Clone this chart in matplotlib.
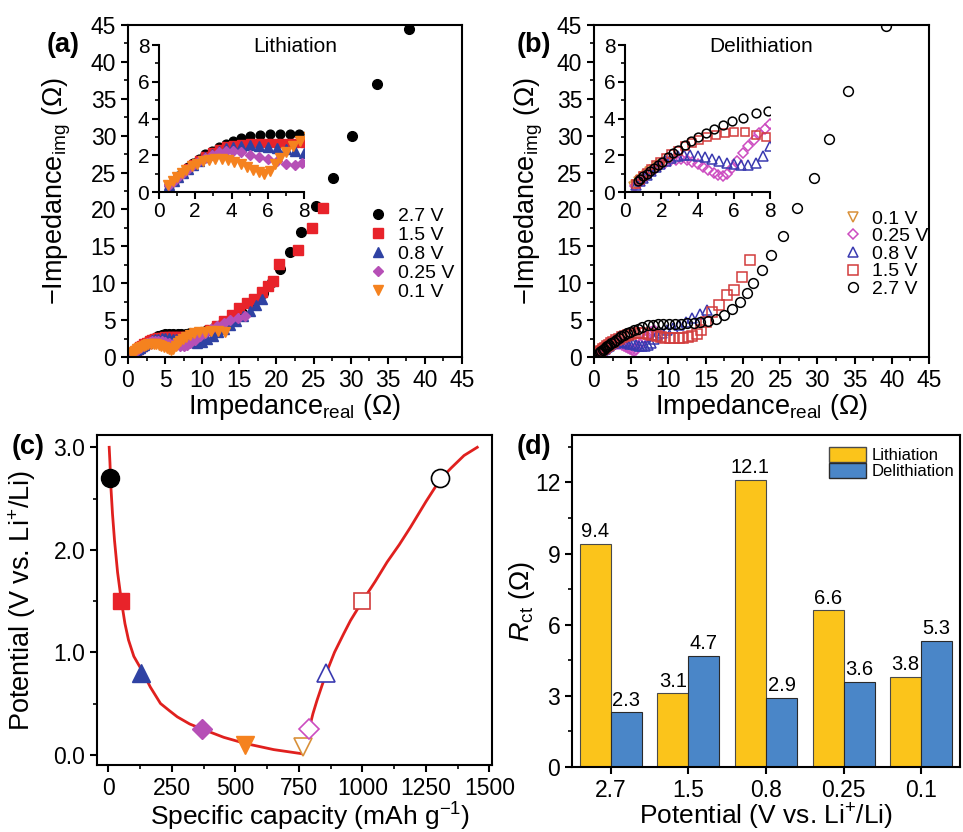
import numpy as np
import matplotlib
matplotlib.use("Agg")
import matplotlib.pyplot as plt
from matplotlib.ticker import MultipleLocator, FormatStrFormatter
from matplotlib.patches import Patch

plt.rcParams.update({"font.family": "Liberation Sans", "mathtext.fontset": "custom",
                     "mathtext.rm": "Liberation Sans", "mathtext.it": "Liberation Sans:italic",
                     "mathtext.bf": "Liberation Sans:bold", "axes.linewidth": 1.5})

# ---------------- data ----------------
# (a) lithiation EIS
li27_x = [0.55,0.8,1.05,1.3,1.6,1.9,2.2,2.55,2.9,3.3,3.7,4.1,4.55,5.0,5.55,6.1,6.7,7.2,7.75,8.3,9.0,9.8,10.7,11.7,12.8,14.0,15.3,16.8,18.2,19.4,20.5,21.8,23.3,25.3,27.6,30.2,33.6,37.9]
li27_y = [0.4,0.62,0.85,1.08,1.35,1.6,1.8,2.05,2.25,2.45,2.62,2.78,2.92,3.05,3.12,3.15,3.17,3.17,3.18,3.22,3.3,3.45,3.7,4.1,4.6,5.2,6.0,7.1,8.7,10.2,11.9,14.2,17.0,20.4,24.3,30.0,37.0,44.4]
li15_x = [0.55,0.8,1.05,1.3,1.6,1.9,2.2,2.55,2.9,3.3,3.7,4.1,4.55,5.0,5.5,6.0,6.5,7.0,7.5,8.0,8.6,9.3,10.1,11.0,12.0,13.0,14.0,14.9,16.0,17.0,18.0,18.8,19.5,20.3,22.9,24.8,26.3]
li15_y = [0.38,0.6,0.82,1.05,1.3,1.52,1.72,1.95,2.15,2.33,2.48,2.58,2.63,2.66,2.67,2.67,2.66,2.66,2.66,2.67,2.75,2.95,3.25,3.65,4.2,4.9,5.7,6.6,7.3,7.8,8.8,9.6,10.3,12.6,14.5,17.5,20.2]
li08_x = [0.55,0.8,1.05,1.3,1.6,1.9,2.2,2.55,2.9,3.3,3.7,4.1,4.55,5.0,5.5,6.0,6.5,7.0,7.5,8.0,8.6,9.3,10.0,10.7,11.4,12.1,12.9,13.7,14.6,15.5,16.4,17.3,18.1]
li08_y = [0.36,0.58,0.8,1.02,1.26,1.48,1.68,1.9,2.08,2.25,2.38,2.47,2.52,2.54,2.52,2.47,2.4,2.32,2.22,2.12,2.0,1.95,2.1,2.45,2.9,3.35,3.85,4.35,4.9,5.5,6.2,7.0,7.9]
li025_x = [0.55,0.8,1.05,1.3,1.6,1.9,2.2,2.55,2.9,3.3,3.7,4.1,4.55,5.0,5.5,6.0,6.5,7.0,7.5,7.9,8.4,9.0,9.7,10.4,11.2,12.0,12.9,13.8,14.8,15.8]
li025_y = [0.36,0.58,0.8,1.02,1.25,1.47,1.66,1.86,2.02,2.15,2.22,2.22,2.15,2.04,1.92,1.8,1.66,1.52,1.45,1.6,1.9,2.3,2.8,3.3,3.8,4.25,4.65,5.0,5.3,5.6]
li01_x = [0.5,0.75,1.0,1.25,1.5,1.8,2.1,2.4,2.75,3.1,3.45,3.8,4.15,4.5,4.85,5.2,5.5,5.8,6.1,6.4,6.7,7.0,7.4,7.8,8.3,8.9,9.6,10.4,11.2,12.1,13.1]
li01_y = [0.4,0.62,0.84,1.04,1.22,1.4,1.55,1.67,1.76,1.8,1.79,1.74,1.64,1.5,1.35,1.2,1.08,1.0,1.15,1.5,1.85,2.2,2.5,2.75,3.0,3.2,3.35,3.45,3.55,3.55,3.4]

# (b) delithiation EIS
de01_x = [0.5,0.62,0.75,0.9,1.05,1.2,1.4,1.6,1.8,2.0]
de01_y = [0.28,0.4,0.52,0.66,0.8,0.93,1.08,1.22,1.35,1.47]
de025_x = [0.55,0.75,0.95,1.15,1.4,1.65,1.9,2.2,2.5,2.8,3.1,3.4,3.7,4.0,4.3,4.6,4.9,5.15,5.4,5.65,5.9,6.2,6.5,6.8,7.1,7.4,7.7,8.0]
de025_y = [0.3,0.48,0.66,0.85,1.05,1.25,1.42,1.58,1.7,1.76,1.78,1.74,1.65,1.52,1.38,1.22,1.05,0.92,0.85,0.98,1.3,1.7,2.1,2.5,2.85,3.2,3.45,3.7]
de08_x = [0.6,0.8,1.0,1.2,1.45,1.7,1.95,2.25,2.55,2.9,3.25,3.6,4.0,4.4,4.8,5.2,5.6,6.0,6.4,6.8,7.2,7.6,8.0,8.5,9.1,9.8,10.6,11.4,12.3,13.2,14.2,15.2]
de08_y = [0.4,0.58,0.76,0.95,1.15,1.35,1.52,1.7,1.84,1.95,2.02,2.04,1.98,1.9,1.8,1.7,1.6,1.52,1.47,1.48,1.6,1.95,2.5,2.95,3.3,3.6,3.95,4.35,4.8,5.25,5.8,6.4]
de15_x = [0.6,0.8,1.0,1.2,1.45,1.7,1.95,2.25,2.55,2.9,3.3,3.7,4.1,4.5,5.0,5.5,6.0,6.6,7.2,7.8,8.4,9.0,9.6,10.2,10.8,11.4,12.0,12.6,13.2,13.8,14.4,15.1,15.8,16.8,17.9,18.8,19.9,21.0]
de15_y = [0.45,0.65,0.85,1.05,1.25,1.45,1.65,1.85,2.05,2.25,2.48,2.68,2.85,2.98,3.1,3.2,3.28,3.25,3.12,3.0,2.85,2.7,2.62,2.58,2.55,2.55,2.58,2.65,2.8,3.1,3.6,4.8,6.1,7.0,8.4,9.1,10.9,13.1]
de27_x = [0.7,0.85,1.0,1.2,1.4,1.6,1.8,2.05,2.35,2.65,2.95,3.3,3.65,4.05,4.45,4.9,5.4,5.9,6.5,7.2,7.9,8.6,9.3,10.1,10.9,11.7,12.5,13.4,14.3,15.3,16.4,17.5,18.6,19.6,20.6,21.4,22.5,23.8,25.4,27.3,29.6,31.5,34.1,39.2]
de27_y = [0.6,0.72,0.85,1.0,1.15,1.3,1.45,1.65,1.88,2.1,2.3,2.55,2.78,3.0,3.22,3.42,3.62,3.85,4.05,4.28,4.4,4.45,4.5,4.5,4.5,4.52,4.55,4.6,4.7,4.85,5.2,5.7,6.5,7.5,8.7,10.0,11.8,13.8,16.4,20.2,24.2,29.6,36.1,44.8]

# (c) voltage profile
cap_dis = [3,6,10,16,24,36,51,65,79,100,130,165,205,240,271,320,370,454,539,651,762]
pot_dis = [3.0,2.85,2.6,2.35,2.09,1.78,1.5,1.28,1.12,0.96,0.83,0.66,0.5,0.43,0.37,0.3,0.25,0.17,0.11,0.05,0.01]
cap_chg = [762,772,782,791,805,821,840,858,890,926,953,1000,1050,1097,1145,1189,1250,1307,1350,1400,1452]
pot_chg = [0.01,0.05,0.11,0.26,0.4,0.53,0.67,0.8,1.0,1.18,1.31,1.5,1.69,1.88,2.05,2.22,2.47,2.69,2.8,2.92,3.0]
mark_li_cap = [8, 51, 130, 370, 539]
mark_li_pot = [2.7, 1.5, 0.8, 0.25, 0.1]
mark_de_cap = [764, 791, 858, 1000, 1307]
mark_de_pot = [0.08, 0.25, 0.8, 1.5, 2.7]

# (d) charge-transfer resistance
potentials = ["2.7", "1.5", "0.8", "0.25", "0.1"]
rct_li = [9.4, 3.1, 12.1, 6.6, 3.8]
rct_de = [2.3, 4.7, 2.9, 3.6, 5.3]

# ---------------- styles ----------------
C27, C15, C08, C025, C01 = "black", "#E8232A", "#2F42A3", "#B64FB6", "#F5821F"
OC15, OC08, OC025, OC01 = "#D23C3C", "#3A3AB0", "#CC4CC0", "#D9913A"
YEL, BLU = "#FBC41B", "#4A86C8"
TICK_FS, LAB_FS = 16.5, 19.5

lith = [(li27_x, li27_y, "o", C27, "2.7 V"), (li15_x, li15_y, "s", C15, "1.5 V"),
        (li08_x, li08_y, "^", C08, "0.8 V"), (li025_x, li025_y, "D", C025, "0.25 V"),
        (li01_x, li01_y, "v", C01, "0.1 V")]
delith = [(de01_x, de01_y, "v", OC01, "0.1 V"), (de025_x, de025_y, "D", OC025, "0.25 V"),
          (de08_x, de08_y, "^", OC08, "0.8 V"), (de15_x, de15_y, "s", OC15, "1.5 V"),
          (de27_x, de27_y, "o", C27, "2.7 V")]
msz = {"o": 7, "s": 6.5, "^": 7.5, "D": 5.5, "v": 7.5}

def style(ax, minor_x=None, minor_y=None):
    ax.tick_params(direction="out", length=5, width=1.5, labelsize=TICK_FS, top=False, right=False)
    ax.tick_params(which="minor", direction="out", length=3, width=1.2)
    if minor_x: ax.xaxis.set_minor_locator(MultipleLocator(minor_x))
    if minor_y: ax.yaxis.set_minor_locator(MultipleLocator(minor_y))

def eis_panel(ax, ins, series, filled, title):
    for x, y, m, c, lab in series:
        kw = dict(color=c) if filled else dict(mfc="none", mec=c, mew=1.1)
        ax.plot(x, y, ls="none", marker=m, ms=msz[m], label=lab, **kw)
        ins.plot(x, y, ls="none", marker=m, ms=msz[m] * 0.9, **kw)
    ax.set_xlim(0, 45); ax.set_ylim(0, 45)
    ax.xaxis.set_major_locator(MultipleLocator(5)); ax.yaxis.set_major_locator(MultipleLocator(5))
    style(ax, 2.5, 2.5)
    ax.set_xlabel("Impedance$_{\\rm real}$ (\u03a9)", fontsize=LAB_FS)
    ax.set_ylabel("\u2212Impedance$_{\\rm img}$ (\u03a9)", fontsize=LAB_FS)
    ax.text(0.5, 0.934, title, transform=ax.transAxes, ha="center", va="center", fontsize=15)
    ins.set_xlim(0, 8); ins.set_ylim(0, 8)
    ins.set_facecolor("none")
    ins.spines["top"].set_visible(False); ins.spines["right"].set_visible(False)
    ins.xaxis.set_major_locator(MultipleLocator(2)); ins.yaxis.set_major_locator(MultipleLocator(2))
    style(ins, 1, 1)
    ins.tick_params(labelsize=15, pad=2)

fig = plt.figure(figsize=(9.63, 8.32), dpi=100)
W, H = 963.0, 832.0
def box(l, t, r, b):
    return [l / W, 1 - b / H, (r - l) / W, (b - t) / H]

# (a)
axa = fig.add_axes(box(128, 25, 462, 357))
insa = fig.add_axes(box(159, 45, 304, 192))
eis_panel(axa, insa, lith, True, "Lithiation")
axa.legend(loc="upper left", bbox_to_anchor=(0.719, 0.452), frameon=False, fontsize=14,
           handlelength=1.0, handletextpad=0.55, labelspacing=0.08, borderpad=0, borderaxespad=0)
axa.yaxis.set_label_coords(-0.165, 0.5)
axa.xaxis.set_label_coords(0.5, -0.105)

# (b)
axb = fig.add_axes(box(594, 25, 929, 357))
insb = fig.add_axes(box(625, 45, 770, 192))
eis_panel(axb, insb, delith, False, "Delithiation")
axb.legend(loc="upper left", bbox_to_anchor=(0.743, 0.443), frameon=False, fontsize=14,
           handlelength=1.0, handletextpad=0.5, labelspacing=0.0, borderpad=0, borderaxespad=0)
axb.yaxis.set_label_coords(-0.145, 0.5)
axb.xaxis.set_label_coords(0.5, -0.105)

# (c)
axc = fig.add_axes(box(97, 435, 492, 765))
axc.plot(cap_dis + cap_chg[1:], pot_dis + pot_chg[1:], color="#E0201E", lw=2, zorder=1)
fmk = [("o", C27, 13), ("s", C15, 11), ("^", C08, 13), ("D", C025, 10), ("v", C01, 13)]
omk = [("v", OC01, 13), ("D", OC025, 10), ("^", OC08, 13), ("s", OC15, 11), ("o", C27, 13)]
for (m, c, s), x, y in zip(fmk, mark_li_cap, mark_li_pot):
    axc.plot([x], [y], marker=m, color=c, ms=s, ls="none", zorder=3)
for (m, c, s), x, y in zip(omk, mark_de_cap, mark_de_pot):
    axc.plot([x], [y], marker=m, mfc="white", mec=c, mew=1.2, ms=s, ls="none", zorder=3)
axc.set_xlim(-45, 1510); axc.set_ylim(-0.1, 3.12)
axc.xaxis.set_major_locator(MultipleLocator(250)); axc.yaxis.set_major_locator(MultipleLocator(1))
axc.yaxis.set_major_formatter(FormatStrFormatter("%.1f"))
style(axc, 125, 0.5)
axc.set_xlabel("Specific capacity (mAh g$^{-1}$)", fontsize=19)
axc.set_ylabel("Potential (V vs. Li$^{+}$/Li)", fontsize=LAB_FS)
axc.yaxis.set_label_coords(-0.15, 0.5)
axc.xaxis.set_label_coords(0.54, -0.108)

# (d)
axd = fig.add_axes(box(572, 435, 960, 767))
xi = np.arange(len(potentials)); bw = 0.4
b1 = axd.bar(xi - bw / 2, rct_li, bw, color=YEL, edgecolor="#4a4a4a", lw=0.8, label="Lithiation")
b2 = axd.bar(xi + bw / 2, rct_de, bw, color=BLU, edgecolor="#2a2a2a", lw=0.8, label="Delithiation")
for bars in (b1, b2):
    for b in bars:
        axd.text(b.get_x() + b.get_width() / 2, b.get_height() + 0.12, f"{b.get_height():.1f}",
                 ha="center", va="bottom", fontsize=14.5)
axd.set_xlim(-0.5, 4.5); axd.set_ylim(0, 14)
axd.set_xticks(xi); axd.set_xticklabels(potentials)
axd.yaxis.set_major_locator(MultipleLocator(3))
style(axd, None, 1.5)
axd.set_xlabel("Potential (V vs. Li$^{+}$/Li)", fontsize=19)
axd.set_ylabel("$R_{\\rm ct}$ (\u03a9)", fontsize=LAB_FS)
axd.yaxis.set_label_coords(-0.09, 0.5)
axd.xaxis.set_label_coords(0.5, -0.105)
axd.legend(handles=[Patch(facecolor=YEL, edgecolor="#4a4a4a", label="Lithiation"),
                    Patch(facecolor=BLU, edgecolor="#2a2a2a", label="Delithiation")],
           loc="upper left", bbox_to_anchor=(0.663, 0.964), frameon=False, fontsize=12,
           handlelength=2.2, handleheight=1.0, handletextpad=0.35, labelspacing=0.0,
           borderpad=0, borderaxespad=0)

# panel letters
for s, x, y in [("(a)", 63, 45), ("(b)", 534, 45), ("(c)", 28, 447), ("(d)", 534, 447)]:
    fig.text(x / W, 1 - y / H, s, ha="center", va="center", fontsize=19.5, fontweight="bold")

fig.savefig("out.png", dpi=100)
